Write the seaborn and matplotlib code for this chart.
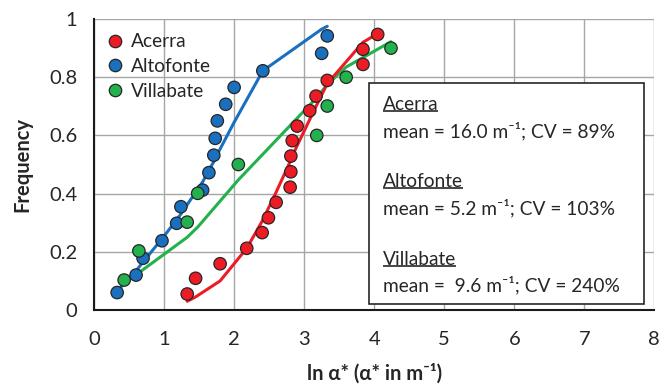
import numpy as np
import pandas as pd
import matplotlib
matplotlib.use("Agg")
import matplotlib.pyplot as plt
import seaborn as sns
from matplotlib.patches import Rectangle

# ---- data ----
acerra_x = [1.33, 1.45, 1.80, 2.18, 2.40, 2.49, 2.60, 2.80, 2.81, 2.81, 2.83, 2.90, 3.08, 3.17, 3.33, 3.84, 3.84, 4.05]
acerra_y = [0.055, 0.109, 0.159, 0.212, 0.266, 0.317, 0.370, 0.422, 0.475, 0.529, 0.582, 0.632, 0.685, 0.735, 0.789, 0.844, 0.896, 0.947]
acerra_fit = [0.030, 0.045, 0.100, 0.212, 0.305, 0.350, 0.405, 0.510, 0.515, 0.515, 0.528, 0.565, 0.655, 0.700, 0.778, 0.920, 0.920, 0.950]

alto_x = [0.33, 0.60, 0.70, 0.97, 1.18, 1.24, 1.55, 1.64, 1.71, 1.73, 1.76, 1.88, 2.00, 2.41, 3.25, 3.33]
alto_y = [0.060, 0.120, 0.178, 0.238, 0.298, 0.355, 0.412, 0.472, 0.532, 0.590, 0.650, 0.707, 0.765, 0.822, 0.882, 0.942]
alto_fit = [0.065, 0.135, 0.165, 0.245, 0.310, 0.330, 0.440, 0.480, 0.510, 0.520, 0.535, 0.590, 0.645, 0.822, 0.965, 0.975]

villa_x = [0.43, 0.64, 1.33, 1.48, 2.06, 3.18, 3.33, 3.60, 4.24]
villa_y = [0.103, 0.203, 0.302, 0.401, 0.500, 0.600, 0.701, 0.800, 0.900]
villa_fit = [0.095, 0.128, 0.250, 0.285, 0.447, 0.730, 0.775, 0.835, 0.922]

sites = ["Acerra", "Altofonte", "Villabate"]
colors = {"Acerra": "#ed1c24", "Altofonte": "#1b6fbf", "Villabate": "#22b14c"}

box_lines = [
    ("Acerra", "mean = 16.0 m\u207b\u00b9; CV = 89%"),
    ("Altofonte", "mean = 5.2 m\u207b\u00b9; CV = 103%"),
    ("Villabate", "mean =  9.6 m\u207b\u00b9; CV = 240%"),
]

x_ticks = [0, 1, 2, 3, 4, 5, 6, 7, 8]
y_ticks = [0, 0.2, 0.4, 0.6, 0.8, 1.0]
y_tick_labels = ["0", "0.2", "0.4", "0.6", "0.8", "1"]

pts = pd.concat([
    pd.DataFrame({"x": acerra_x, "y": acerra_y, "fit": acerra_fit, "site": "Acerra"}),
    pd.DataFrame({"x": alto_x, "y": alto_y, "fit": alto_fit, "site": "Altofonte"}),
    pd.DataFrame({"x": villa_x, "y": villa_y, "fit": villa_fit, "site": "Villabate"}),
], ignore_index=True)

# ---- style ----
sns.set_style("white")
plt.rcParams["font.family"] = ["Lato", "DejaVu Sans"]
FS = 13.8
TXT = "#262626"

fig = plt.figure(figsize=(6.67, 3.88), dpi=100)
ax = fig.add_axes([0.141, 0.201, 0.840, 0.750])

for s in ["Villabate", "Acerra", "Altofonte"]:
    d = pts[pts.site == s]
    sns.lineplot(data=d, x="x", y="fit", color=colors[s], lw=2.2, sort=False,
                 estimator=None, ax=ax, legend=False, zorder=3)

sns.scatterplot(data=pts, x="x", y="y", hue="site", hue_order=sites, palette=colors,
                s=80, edgecolor="#262626", linewidth=0.9, ax=ax, zorder=4)

ax.set_xlim(0, 8)
ax.set_ylim(0, 1)
ax.set_xticks(x_ticks)
ax.set_yticks(y_ticks)
ax.set_yticklabels(y_tick_labels)
ax.grid(True, color="#a6a6a6", lw=1.0)
ax.set_axisbelow(True)
for sp in ["top", "right"]:
    ax.spines[sp].set_visible(False)
for sp in ["left", "bottom"]:
    ax.spines[sp].set_color("#1a1a1a")
    ax.spines[sp].set_linewidth(1.5)
ax.tick_params(axis="both", which="both", direction="out", length=5, width=1,
               color="#1a1a1a", labelsize=14.5, labelcolor=TXT)
ax.tick_params(axis="x", pad=10)
ax.tick_params(axis="y", pad=7)

ax.set_xlabel("ln \u03b1* (\u03b1* in m\u207b\u00b9)", fontsize=14.5, fontweight="bold",
              color=TXT, labelpad=11)
ax.set_ylabel("Frequency", fontsize=14.5, fontweight="bold", color=TXT, labelpad=12)

leg = ax.legend(loc="upper left", frameon=False, fontsize=FS, handlelength=1.0,
                handletextpad=0.35, labelspacing=0.4, borderaxespad=0.2,
                bbox_to_anchor=(0.0, 0.99), markerscale=1.0)
for t in leg.get_texts():
    t.set_color(TXT)

# stats box
ax.add_patch(Rectangle((3.92, 0.02), 3.93, 0.76, facecolor="white", edgecolor="#262626",
                       lw=1.2, zorder=5))
ys = [0.705, 0.615, 0.440, 0.350, 0.172, 0.085]
fig.canvas.draw()
inv = ax.transData.inverted()
i = 0
for name, stat in box_lines:
    t = ax.text(4.12, ys[i], name, fontsize=FS, color=TXT, va="center", zorder=6)
    fig.canvas.draw()
    bb = t.get_window_extent()
    (x0, y0), (x1, y1) = inv.transform([(bb.x0, bb.y0), (bb.x1, bb.y1)])
    ax.plot([x0, x1], [y0 + 0.008, y0 + 0.008], color="#262626", lw=1.2, zorder=6,
            solid_capstyle="butt")
    ax.text(4.12, ys[i + 1], stat, fontsize=FS, color=TXT, va="center", zorder=6)
    i += 2

fig.savefig("out.png", dpi=100)
